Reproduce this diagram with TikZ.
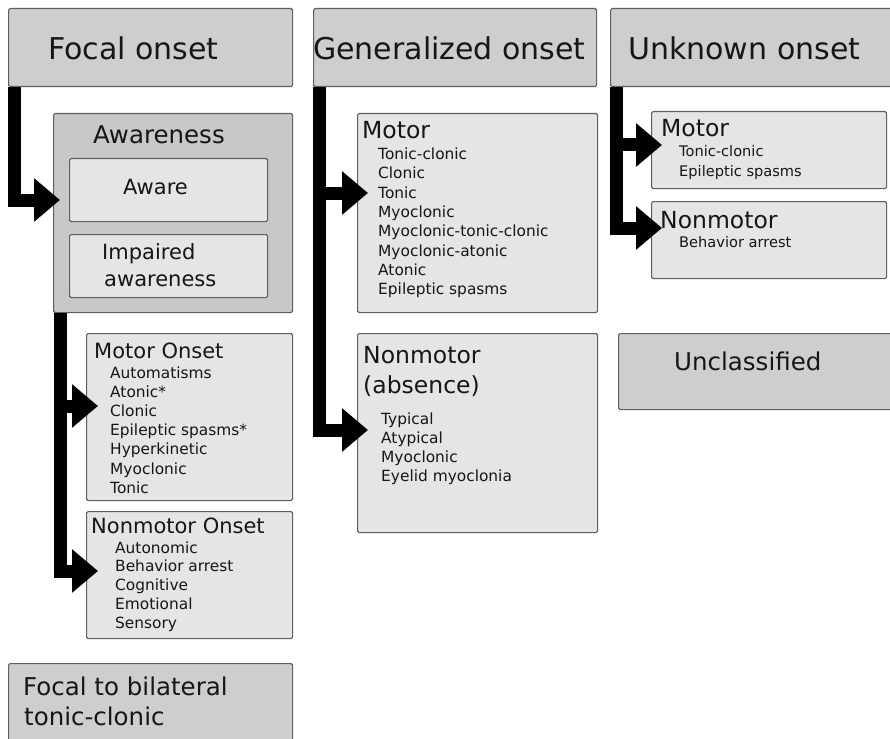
\documentclass[tikz,border=0pt]{standalone}
\usepackage{fontspec}
\setmainfont{DejaVu Sans}
\usetikzlibrary{arrows.meta}
\definecolor{hdr}{RGB}{206,206,206}
\definecolor{grp}{RGB}{200,200,200}
\definecolor{sub}{RGB}{229,229,229}
\definecolor{edge}{RGB}{95,95,95}
\definecolor{ink}{RGB}{22,22,22}
\begin{document}
\begin{tikzpicture}[x=1pt,y=-1pt,
  box/.style={draw=edge, line width=1.1pt, rounded corners=1.5pt, inner sep=0pt, anchor=north west},
  hdrbox/.style={box, fill=hdr},
  grpbox/.style={box, fill=grp},
  subbox/.style={box, fill=sub},
  wh/.style 2 args={minimum width=#1pt, minimum height=#2pt},
  txt/.style={anchor=base west, inner sep=0pt, text=ink},
  huge/.style={txt, font=\fontsize{30}{36}\selectfont},
  large/.style={txt, font=\fontsize{24.5}{30}\selectfont},
  mid/.style={txt, font=\fontsize{23.5}{28}\selectfont},
  small/.style={txt, font=\fontsize{21}{26}\selectfont},
  item/.style={txt, font=\fontsize{15.4}{19}\selectfont},
  uitem/.style={txt, font=\fontsize{14.6}{18}\selectfont},
  bar/.style={line width=13pt, line join=miter, -{Triangle[length=26pt,width=42pt]}},
]
\useasboundingbox (0,0) rectangle (890,738);
\clip (0,0) rectangle (890,738);

% ---------- focal column ----------
\node[hdrbox, wh={284}{78}] (focal) at (8,8) {};
\node[huge] (focalT) at (48,60) {Focal onset};

\node[grpbox, wh={239}{199}] (awgrp) at (53,113) {};
\node[large] (awgrpT) at (93,143) {Awareness};
\node[subbox, wh={198}{63}] (aware) at (69,158) {};
\node[small] (awareT) at (123,194) {Aware};
\node[subbox, wh={198}{63}] (impaired) at (69,234) {};
\node[small] (impT1) at (102,259) {Impaired};
\node[small] (impT2) at (104,286) {awareness};

\node[subbox, wh={206}{167}] (fmotor) at (86,333) {};
\node[small] (fmotorT) at (94,358) {Motor Onset};
\foreach \t [count=\i from 0] in {Automatisms, Atonic*, Clonic, Epileptic spasms*, Hyperkinetic, Myoclonic, Tonic}
  \node[item] (fm\i) at (110,378+19.2*\i) {\t};

\node[subbox, wh={206}{127}] (fnon) at (86,511) {};
\node[small] (fnonT) at (91,533) {Nonmotor Onset};
\foreach \t [count=\i from 0] in {Autonomic, Behavior arrest, Cognitive, Emotional, Sensory}
  \node[item] (fn\i) at (115,553+18.9*\i) {\t};

\node[hdrbox, wh={284}{100}] (bilat) at (8,663) {};
\node[large] (bilatT1) at (23,695) {Focal to bilateral};
\node[large] (bilatT2) at (24,725) {tonic-clonic};

% ---------- generalized column ----------
\node[hdrbox, wh={283}{78}] (gen) at (313,8) {};
\node[huge] (genT) at (313,60) {Generalized onset};

\node[subbox, wh={240}{199}] (gmotor) at (357,113) {};
\node[mid] (gmotorT) at (362,139) {Motor};
\foreach \t [count=\i from 0] in {Tonic-clonic, Clonic, Tonic, Myoclonic, Myoclonic-tonic-clonic, Myoclonic-atonic, Atonic, Epileptic spasms}
  \node[item] (gm\i) at (378,159.5+19.3*\i) {\t};

\node[subbox, wh={240}{199}] (gnon) at (357,333) {};
\node[mid] (gnonT1) at (363,363) {Nonmotor};
\node[mid] (gnonT2) at (363,393) {(absence)};
\foreach \t [count=\i from 0] in {Typical, Atypical, Myoclonic, Eyelid myoclonia}
  \node[item] (gn\i) at (381,424+19.3*\i) {\t};

% ---------- unknown column ----------
\node[hdrbox, wh={300}{78}] (unk) at (610,8) {};
\node[huge] (unkT) at (628,60) {Unknown onset};

\node[subbox, wh={235}{77}] (umotor) at (651,111) {};
\node[mid] (umotorT) at (661,137) {Motor};
\node[uitem] (um0) at (679,157) {Tonic-clonic};
\node[uitem] (um1) at (679,176) {Epileptic spasms};

\node[subbox, wh={235}{77}] (unon) at (651,201) {};
\node[mid] (unonT) at (660,228) {Nonmotor};
\node[uitem] (un0) at (679,247) {Behavior arrest};

\node[hdrbox, wh={290}{76}] (uncl) at (618,333) {};
\node[large] (unclT) at (674,370) {Unclassified};

% ---------- connectors ----------
\coordinate (tipAw) at (60,200);
\coordinate (tipFm) at (98,406);
\coordinate (tipFn) at (98,571);
\coordinate (tipGm) at (368,193);
\coordinate (tipGn) at (368,430);
\coordinate (tipUm) at (662,145);
\coordinate (tipUn) at (662,228);

\draw[bar] ([xshift=6.5pt]focal.south west) |- (tipAw);
\draw[bar] ([xshift=7pt]awgrp.south west) |- (tipFm);
\draw[bar] ([xshift=7pt]awgrp.south west) |- (tipFn);
\draw[bar] ([xshift=6pt]gen.south west) |- (tipGm);
\draw[bar] ([xshift=6pt]gen.south west) |- (tipGn);
\draw[bar] ([xshift=6.5pt]unk.south west) |- (tipUm);
\draw[bar] ([xshift=6.5pt]unk.south west) |- (tipUn);
\end{tikzpicture}
\end{document}
